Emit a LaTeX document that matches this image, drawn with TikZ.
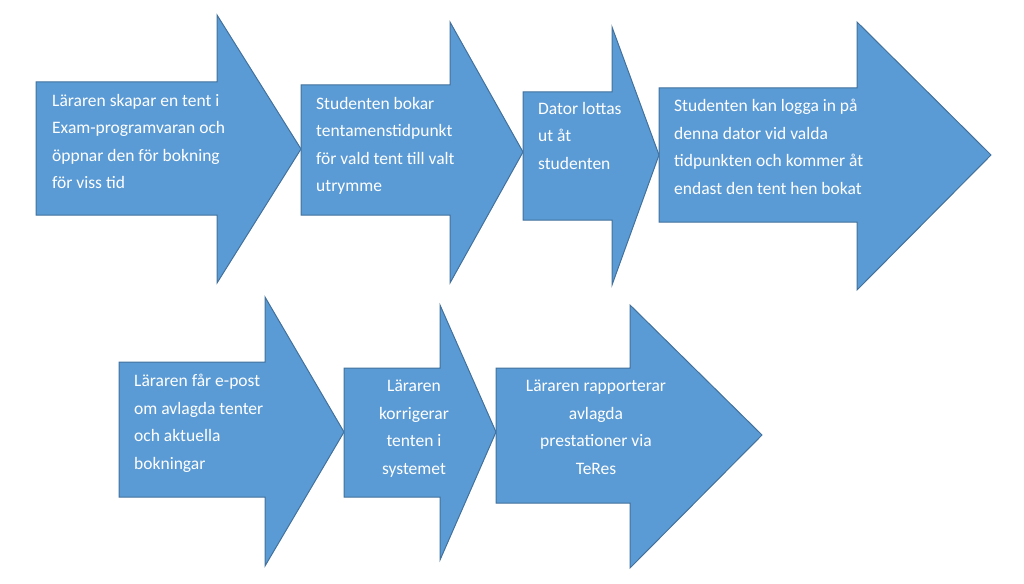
\documentclass[tikz,border=0pt]{standalone}
\usepackage{fontspec}
\setmainfont{Carlito}
\definecolor{fillb}{HTML}{5B9BD5}
\definecolor{edgeb}{HTML}{41719C}
\tikzset{
  arr/.style={fill=fillb,draw=edgeb,line width=1pt,line join=miter},
  lab/.style={text=white,font=\fontsize{17.5}{27.5}\selectfont,inner sep=0pt},
}
% #1 body left, #2 body top, #3 body bottom, #4 head x, #5 head top, #6 head bottom, #7 tip x, #8 tip y
\newcommand\arrowshape[8]{\draw[arr] (#1,#2) -- (#4,#2) -- (#4,#5) -- (#7,#8) -- (#4,#6) -- (#4,#3) -- (#1,#3) -- cycle;}
\begin{document}
\begin{tikzpicture}[x=1pt,y=-1pt]
\useasboundingbox (0,0) rectangle (1024,583);
\arrowshape{36}{82}{215}{217}{15}{283}{301}{149}
\arrowshape{301}{85}{215}{450}{22}{283}{523}{152}
\arrowshape{523}{92}{220}{612}{27}{285}{659}{155}
\arrowshape{659}{88}{222}{857}{22}{290}{991}{155}
\arrowshape{119}{362}{497}{265}{297}{566}{344}{432}
\arrowshape{344}{368}{497}{440}{305}{560}{496}{432}
\arrowshape{496}{368}{503}{630}{305}{568}{762}{435}
\node[lab,anchor=north west,align=left] (t1) at (52,94) {Läraren skapar en tent i\\Exam-programvaran och\\öppnar den för bokning\\för viss tid};
\node[lab,anchor=north west,align=left] (t2) at (316,97) {Studenten bokar\\tentamenstidpunkt\\för vald tent till valt\\utrymme};
\node[lab,anchor=north west,align=left] (t3) at (538,102) {Dator lottas\\ut åt\\studenten};
\node[lab,anchor=north west,align=left] (t4) at (674,99) {Studenten kan logga in på\\denna dator vid valda\\tidpunkten och kommer åt\\endast den tent hen bokat};
\node[lab,anchor=north west,align=left] (t5) at (134,374) {Läraren får e-post\\om avlagda tenter\\och aktuella\\bokningar};
\node[lab,anchor=north,align=center] (t6) at (414,380) {Läraren\\korrigerar\\tenten i\\systemet};
\node[lab,anchor=north,align=center] (t7) at (596,380) {Läraren rapporterar\\avlagda\\prestationer via\\TeRes};
\end{tikzpicture}
\end{document}
